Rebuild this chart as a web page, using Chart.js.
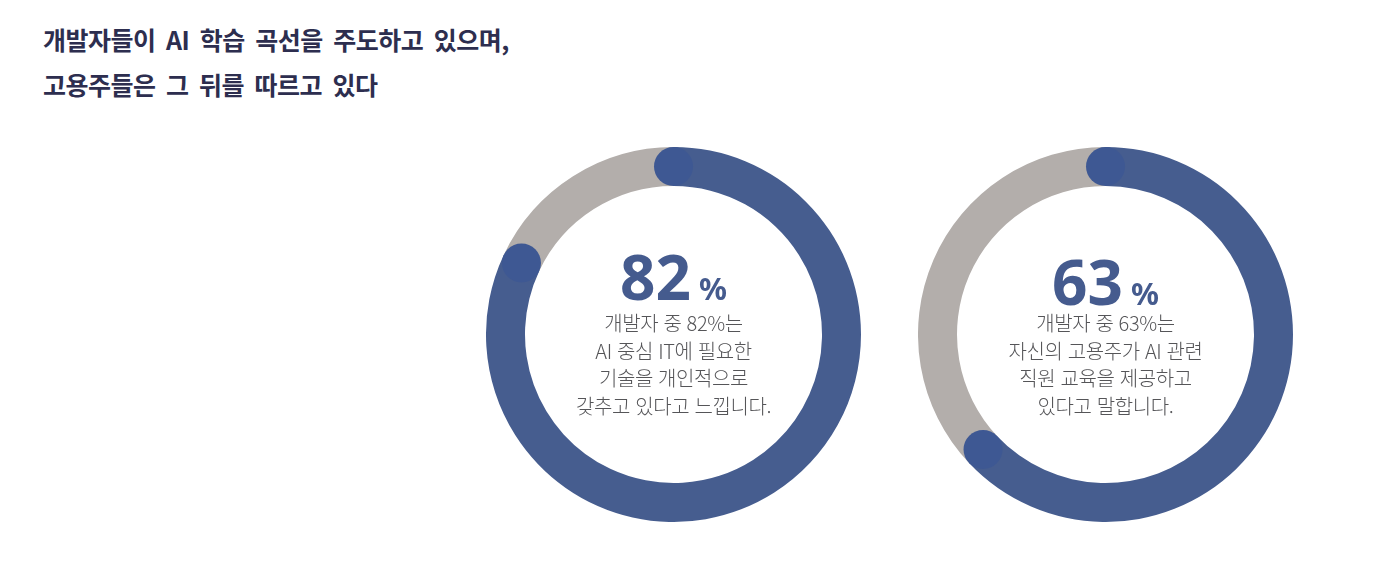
<!DOCTYPE html>
<html lang="ko">
<head>
<meta charset="utf-8">
<script src="https://cdn.jsdelivr.net/npm/chart.js@4.4.1/dist/chart.umd.min.js"></script>
<style>
  html, body { margin:0; padding:0; background:#ffffff; }
  body { width:1377px; height:568px; position:relative; overflow:hidden; font-family:"Noto Sans CJK KR","Noto Sans",sans-serif; }
  .title { position:absolute; left:43px; top:17px; font-size:25px; font-weight:700; color:#2d2e4f; line-height:45px; letter-spacing:-0.5px; word-spacing:4px; white-space:nowrap; }
  .chartbox { position:absolute; width:375px; height:375px; }
  .chartbox canvas { position:absolute; left:0; top:0; }
  .big { position:absolute; width:300px; text-align:center; color:#455b8e; font-family:"Noto Sans","Noto Sans CJK KR",sans-serif; font-weight:700; font-size:62px; line-height:62px; white-space:nowrap; }
  .big .pct { font-size:31px; margin-left:8px; }
  .desc { position:absolute; width:300px; text-align:center; color:#555558; font-size:20px; font-weight:300; line-height:27.7px; letter-spacing:-0.4px; white-space:nowrap; }
</style>
</head>
<body>
<div class="title" id="title"></div>
<div class="chartbox" id="box0"><canvas id="c0" width="375" height="375"></canvas></div>
<div class="chartbox" id="box1"><canvas id="c1" width="375" height="375"></canvas></div>
<div class="big" id="big0"></div>
<div class="big" id="big1"></div>
<div class="desc" id="desc0"></div>
<div class="desc" id="desc1"></div>
<script>
// ---- data ----
const titleLines = ["개발자들이 AI 학습 곡선을 주도하고 있으며,", "고용주들은 그 뒤를 따르고 있다"];
const categories = ["해당", "기타"];
const valuesA = [82, 18];
const valuesB = [63, 37];
const labelsPct = ["82", "63"];
const descA = ["개발자 중 82%는", "AI 중심 IT에 필요한", "기술을 개인적으로", "갖추고 있다고 느낍니다."];
const descB = ["개발자 중 63%는", "자신의 고용주가 AI 관련", "직원 교육을 제공하고", "있다고 말합니다."];

// ---- styles / layout ----
const blue = "#465d8f";
const capBlue = "#3e5893";
const grey = "#b3aeab";
const centers = [[673.5, 334], [1105.5, 334]];
const bigTops = [245, 250];

document.getElementById("title").innerHTML = titleLines.join("<br>");

const capPlugin = {
  id: "caps",
  afterDatasetsDraw(chart) {
    const arc = chart.getDatasetMeta(0).data[0];
    if (!arc) return;
    const p = arc.getProps(["x","y","startAngle","endAngle","innerRadius","outerRadius"], true);
    const mid = (p.innerRadius + p.outerRadius) / 2;
    const r = (p.outerRadius - p.innerRadius) / 2;
    const ctx = chart.ctx;
    ctx.save();
    ctx.fillStyle = capBlue;
    [p.startAngle, p.endAngle].forEach(a => {
      ctx.beginPath();
      ctx.arc(p.x + mid * Math.cos(a), p.y + mid * Math.sin(a), r, 0, Math.PI * 2);
      ctx.fill();
    });
    ctx.restore();
  }
};

function makeChart(idx, values) {
  const box = document.getElementById("box" + idx);
  box.style.left = (centers[idx][0] - 187.5) + "px";
  box.style.top = (centers[idx][1] - 187.5) + "px";
  new Chart(document.getElementById("c" + idx), {
    type: "doughnut",
    data: {
      labels: categories,
      datasets: [{ data: values, backgroundColor: [blue, grey], borderWidth: 0, hoverOffset: 0 }]
    },
    options: {
      responsive: false,
      animation: false,
      cutout: "79.2%",
      layout: { padding: 0 },
      plugins: { legend: { display: false }, tooltip: { enabled: false } },
      events: []
    },
    plugins: [capPlugin]
  });
}
makeChart(0, valuesA);
makeChart(1, valuesB);

[0, 1].forEach(i => {
  const big = document.getElementById("big" + i);
  big.innerHTML = labelsPct[i] + '<span class="pct">%</span>';
  big.style.left = (centers[i][0] - 150) + "px";
  big.style.top = bigTops[i] + "px";
  const d = document.getElementById("desc" + i);
  d.innerHTML = (i === 0 ? descA : descB).join("<br>");
  d.style.left = (centers[i][0] - 150) + "px";
  d.style.top = "309px";
});
</script>
</body>
</html>
